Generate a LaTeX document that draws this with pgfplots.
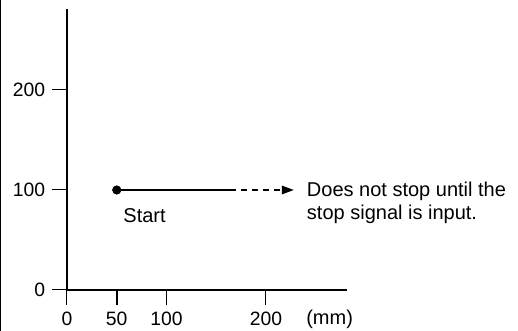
\documentclass[border=0pt]{standalone}
\usepackage{fontspec}
\setmainfont{Liberation Sans}
\usepackage{pgfplots}
\pgfplotsset{compat=1.18}
\usetikzlibrary{arrows.meta}
\begin{document}
\fontsize{15}{18}\selectfont
\begin{tikzpicture}
\useasboundingbox (0,0) rectangle (388.5pt,248.25pt);
\draw[line width=0.75pt] (0.5pt,0) -- (0.5pt,248.25pt);
\begin{axis}[
  at={(50.25pt,30.75pt)}, anchor=south west,
  x=0.746pt, y=0.75pt,
  xmin=0, xmax=282, ymin=0, ymax=281,
  axis lines=left,
  axis line style={line width=1.6pt, -},
  xtick={0,100,200}, ytick={0,100,200},
  extra x ticks={50},
  extra x tick style={major tick style={line width=1.5pt}},
  tick align=outside,
  major tick length=11.25pt,
  tick style={line width=0.75pt, black},
  /pgf/number format/assume math mode=true,
  ticklabel style={font=\fontsize{14.5}{17}\selectfont},
  clip=false,
]
\addplot[black, line width=1.6pt] coordinates {(50,100) (164,100)};
\addplot[black, only marks, mark=*, mark size=3.2pt] coordinates {(50,100)};
\addplot[black, line width=0.8pt, dash pattern=on 4.5pt off 3.75pt, -{Triangle[length=9pt,width=6.5pt]}] coordinates {(164,100) (228,100)};
\node[anchor=base west, inner sep=0pt] at (axis cs:241,93) {Does not stop until the};
\node[anchor=base west, inner sep=0pt] at (axis cs:241,70) {stop signal is input.};
\node[anchor=base, inner sep=0pt] at (axis cs:78,67) {Start};
\node[anchor=base, inner sep=0pt] at (axis cs:264,-35) {(mm)};
\end{axis}
\end{tikzpicture}
\end{document}
